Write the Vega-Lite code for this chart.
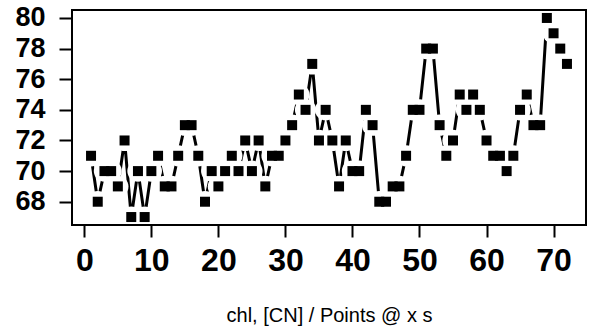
{
  "$schema": "https://vega.github.io/schema/vega-lite/v6.json",
  "width": 514,
  "height": 215,
  "autosize": {"type": "none"},
  "padding": {"left": 72, "top": 10, "right": 5, "bottom": 102},
  "background": "white",
  "config": {"view": {"stroke": null}, "font": "Liberation Sans"},
  "data": {"values": [
    {"index": 1, "chl": 71}, {"index": 2, "chl": 68}, {"index": 3, "chl": 70}, {"index": 4, "chl": 70},
    {"index": 5, "chl": 69}, {"index": 6, "chl": 72}, {"index": 7, "chl": 67}, {"index": 8, "chl": 70},
    {"index": 9, "chl": 67}, {"index": 10, "chl": 70}, {"index": 11, "chl": 71}, {"index": 12, "chl": 69},
    {"index": 13, "chl": 69}, {"index": 14, "chl": 71}, {"index": 15, "chl": 73}, {"index": 16, "chl": 73},
    {"index": 17, "chl": 71}, {"index": 18, "chl": 68}, {"index": 19, "chl": 70}, {"index": 20, "chl": 69},
    {"index": 21, "chl": 70}, {"index": 22, "chl": 71}, {"index": 23, "chl": 70}, {"index": 24, "chl": 72},
    {"index": 25, "chl": 70}, {"index": 26, "chl": 72}, {"index": 27, "chl": 69}, {"index": 28, "chl": 71},
    {"index": 29, "chl": 71}, {"index": 30, "chl": 72}, {"index": 31, "chl": 73}, {"index": 32, "chl": 75},
    {"index": 33, "chl": 74}, {"index": 34, "chl": 77}, {"index": 35, "chl": 72}, {"index": 36, "chl": 74},
    {"index": 37, "chl": 72}, {"index": 38, "chl": 69}, {"index": 39, "chl": 72}, {"index": 40, "chl": 70},
    {"index": 41, "chl": 70}, {"index": 42, "chl": 74}, {"index": 43, "chl": 73}, {"index": 44, "chl": 68},
    {"index": 45, "chl": 68}, {"index": 46, "chl": 69}, {"index": 47, "chl": 69}, {"index": 48, "chl": 71},
    {"index": 49, "chl": 74}, {"index": 50, "chl": 74}, {"index": 51, "chl": 78}, {"index": 52, "chl": 78},
    {"index": 53, "chl": 73}, {"index": 54, "chl": 71}, {"index": 55, "chl": 72}, {"index": 56, "chl": 75},
    {"index": 57, "chl": 74}, {"index": 58, "chl": 75}, {"index": 59, "chl": 74}, {"index": 60, "chl": 72},
    {"index": 61, "chl": 71}, {"index": 62, "chl": 71}, {"index": 63, "chl": 70}, {"index": 64, "chl": 71},
    {"index": 65, "chl": 74}, {"index": 66, "chl": 75}, {"index": 67, "chl": 73}, {"index": 68, "chl": 73},
    {"index": 69, "chl": 80}, {"index": 70, "chl": 79}, {"index": 71, "chl": 78}, {"index": 72, "chl": 77}
  ]},
  "encoding": {
    "x": {
      "field": "index", "type": "quantitative",
      "scale": {"domain": [-1.84, 74.84], "nice": false, "zero": false},
      "axis": {
        "values": [0, 10, 20, 30, 40, 50, 60, 70],
        "domain": false, "grid": false,
        "tickColor": "black", "tickWidth": 2, "tickSize": 12,
        "labelFont": "Liberation Sans", "labelFontWeight": "bold", "labelFontSize": 32,
        "labelColor": "black", "labelPadding": 8, "labelFlush": false, "labelOverlap": false,
        "title": "chl, [CN] / Points @ x s",
        "titleFont": "Liberation Sans", "titleFontWeight": "normal", "titleFontSize": 20,
        "titleColor": "black", "titleBaseline": "alphabetic", "titleY": 96.7
      }
    },
    "y": {
      "field": "chl", "type": "quantitative",
      "scale": {"domain": [66.48, 80.52], "nice": false, "zero": false},
      "axis": {
        "values": [68, 70, 72, 74, 76, 78, 80],
        "domain": false, "grid": false,
        "tickColor": "black", "tickWidth": 2, "tickSize": 13,
        "labelFont": "Liberation Sans", "labelFontWeight": "bold", "labelFontSize": 27,
        "labelColor": "black", "labelPadding": 14, "labelAngle": 0, "labelFlush": false, "labelOverlap": false,
        "title": null
      }
    }
  },
  "layer": [
    {"mark": {"type": "line", "color": "black", "strokeWidth": 3, "strokeCap": "round", "strokeJoin": "round"}},
    {"mark": {"type": "point", "shape": "circle", "filled": true, "color": "white", "opacity": 1, "strokeWidth": 0, "size": 452}},
    {"mark": {"type": "point", "shape": "square", "filled": true, "color": "black", "opacity": 1, "strokeWidth": 0, "size": 100}},
    {
      "data": {"values": [{}]},
      "mark": {"type": "rect", "fillOpacity": 0, "stroke": "black", "strokeWidth": 2},
      "encoding": {"x": {"value": 0}, "x2": {"value": "width"}, "y": {"value": 0}, "y2": {"value": "height"}}
    }
  ]
}
